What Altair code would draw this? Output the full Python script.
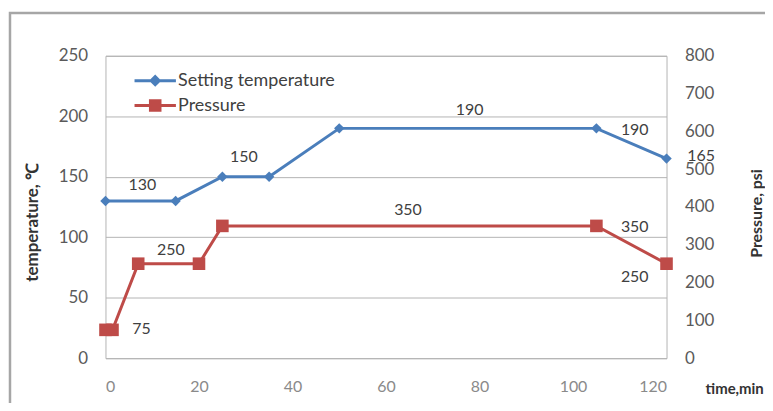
import altair as alt
import pandas as pd

# ---- data ----
temp_time = [0, 15, 25, 35, 50, 105, 120]
temp_value = [130, 130, 150, 150, 190, 190, 165]
press_time = [0, 1.5, 7, 20, 25, 105, 120]
press_value = [75, 75, 250, 250, 350, 350, 250]

temp_label_text = ["130", "150", "190", "190", "165"]
temp_label_time = [7.9, 29.6, 77.9, 113.2, 127.4]
temp_label_value = [143, 166, 205, 189, 167]
press_label_text = ["75", "250", "350", "350", "250"]
press_label_time = [7.7, 14.0, 64.7, 113.2, 113.2]
press_label_value = [76, 287, 392, 347, 216]

x_ticks = [0, 20, 40, 60, 80, 100, 120]
temp_ticks = [0, 50, 100, 150, 200, 250]
press_ticks = [0, 100, 200, 300, 400, 500, 600, 700, 800]
series = ["Setting temperature", "Pressure"]

BLUE = "#4a7ebb"
RED = "#be4b48"
GRID = "#b3b3b3"
FONT = "Lato"

temp_df = pd.DataFrame({"time": temp_time, "value": temp_value})
press_df = pd.DataFrame({"time": press_time, "value": press_value})
temp_lab = pd.DataFrame({"time": temp_label_time, "value": temp_label_value, "text": temp_label_text})
press_lab = pd.DataFrame({"time": press_label_time, "value": press_label_value, "text": press_label_text})
legend_df = pd.DataFrame({"series": series})

W, H = 564, 304

x_enc = alt.X(
    "time:Q",
    scale=alt.Scale(domain=[0, 120], nice=False, zero=False),
    axis=alt.Axis(
        values=x_ticks, title="time,min", grid=False, domain=False, ticks=False,
        labelPadding=20, labelFontSize=16, labelColor="#8a8a8a",
        titleX=632, titleY=30, titleAlign="center", titleBaseline="middle",
        titleFontSize=15, titleFontWeight="bold", titleColor="#333333",
    ),
)

y_temp = alt.Y(
    "value:Q",
    scale=alt.Scale(domain=[0, 250], nice=False),
    axis=alt.Axis(
        orient="left", values=temp_ticks, title="temperature, ℃", grid=True,
        gridColor=GRID, gridWidth=1, domain=False, ticks=False,
        labelPadding=18, labelFontSize=17, labelColor="#5a5a5a",
        titleX=-73, titleY=167, titleAngle=270, titleAlign="center",
        titleBaseline="middle", titleFontSize=17, titleFontWeight="bold",
        titleColor="#333333",
    ),
)

y_press = alt.Y(
    "value:Q",
    scale=alt.Scale(domain=[0, 800], nice=False),
    axis=alt.Axis(
        orient="right", values=press_ticks, title="Pressure, psi", grid=False,
        domain=False, ticks=False, labelPadding=18, labelFontSize=17,
        labelColor="#5a5a5a",
        titleX=90, titleY=158, titleAngle=270, titleAlign="center",
        titleBaseline="middle", titleFontSize=16, titleFontWeight="bold",
        titleColor="#333333",
    ),
)

# legend symbols: a line through a marker (extra strokes fill the marker)
DIA = "M-5.2,0H5.2M-1.0,0L0,-1.0L1.0,0L0,1.0ZM0,-1.0V1.0"
SQ = "M-5.2,0H5.2M-1.2,-1.2H1.2V1.2H-1.2ZM-1.2,-0.6H1.2M-1.2,0.6H1.2"

legend = alt.Legend(
    title=None, orient="none", legendX=27, legendY=16, direction="vertical",
    symbolSize=64, symbolOffset=14, labelOffset=14, rowPadding=4,
    symbolStrokeWidth=3,
    labelFontSize=18, labelColor="#404040", labelFont=FONT, labelLimit=400,
)

legend_layer = alt.Chart(legend_df).mark_point(filled=False, size=64, clip=True, opacity=1).encode(
    x=alt.value(-2000), y=alt.value(-2000),
    color=alt.Color("series:N", scale=alt.Scale(domain=series, range=[BLUE, RED]), legend=legend),
    shape=alt.Shape("series:N", scale=alt.Scale(domain=series, range=[DIA, SQ]), legend=legend),
)

temp_line = alt.Chart(temp_df).mark_line(strokeWidth=3, color=BLUE).encode(x=x_enc, y=y_temp)
temp_pts = alt.Chart(temp_df).mark_point(shape="diamond", filled=True, size=110, color=BLUE, opacity=1).encode(x=x_enc, y=y_temp)
temp_txt = alt.Chart(temp_lab).mark_text(fontSize=16, color="#404040", font=FONT).encode(x=x_enc, y=y_temp, text="text:N")
temp_layer = alt.layer(temp_line, temp_pts, temp_txt)

press_line = alt.Chart(press_df).mark_line(strokeWidth=3, color=RED).encode(x=x_enc, y=y_press)
press_pts = alt.Chart(press_df).mark_point(shape="square", filled=True, size=160, color=RED, opacity=1).encode(x=x_enc, y=y_press)
press_txt = alt.Chart(press_lab).mark_text(fontSize=16, color="#404040", font=FONT).encode(x=x_enc, y=y_press, text="text:N")
press_layer = alt.layer(press_line, press_pts, press_txt)

frame = alt.Chart(pd.DataFrame({"f": [0]})).mark_rect(
    fill="transparent", stroke="#a6a6a6", strokeWidth=2.5
).encode(x=alt.value(-96), x2=alt.value(720), y=alt.value(-43), y2=alt.value(420))

chart = (
    alt.layer(frame, temp_layer, press_layer, legend_layer)
    .resolve_scale(y="independent")
    .properties(
        width=W, height=H,
        padding={"left": 98, "top": 47, "right": 99, "bottom": 44},
        autosize=alt.AutoSizeParams(type="none"),
        background="white",
    )
    .configure_view(stroke=GRID, strokeWidth=1)
    .configure_axis(labelFont=FONT, titleFont=FONT)
    .configure_text(font=FONT)
)

chart.save("out.html", embed_options={"renderer": "svg", "actions": False})
